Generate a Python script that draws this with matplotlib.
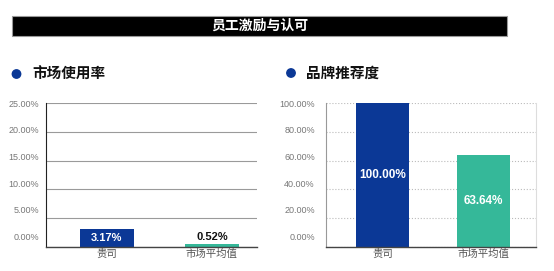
import matplotlib
matplotlib.use("Agg")
import matplotlib.pyplot as plt
from matplotlib.patches import Rectangle, Circle

plt.rcParams['font.family'] = ['Noto Sans CJK SC', 'DejaVu Sans']

main_title = "员工激励与认可"
categories = ["贵司", "市场平均值"]
usage_title = "市场使用率"
usage_values = [3.17, 0.52]
usage_ticks = [0, 5, 10, 15, 20, 25]
rec_title = "品牌推荐度"
rec_values = [100.00, 63.64]
rec_ticks = [0, 20, 40, 60, 80, 100]

BLUE = "#0b3896"
TEAL = "#35b899"
W, H = 554, 271

fig = plt.figure(figsize=(W / 100, H / 100), dpi=100)
fig.patch.set_facecolor("white")

def px_axes(x0, y0, x1, y1):
    return fig.add_axes([x0 / W, 1 - y1 / H, (x1 - x0) / W, (y1 - y0) / H])

# Title bar
bg = fig.add_axes([0, 0, 1, 1])
bg.set_xlim(0, W)
bg.set_ylim(H, 0)
bg.axis("off")
bg.add_patch(Rectangle((12, 16), 495, 20, facecolor="black", edgecolor="#999999", lw=0.8))
bg.text(259.5, 26, main_title, color="white", fontsize=10, fontweight="bold",
        ha="center", va="center")
# section headers
bg.add_patch(Circle((16.5, 74), 4.2, color=BLUE))
bg.text(32, 74, usage_title, fontsize=10.5, fontweight="bold", ha="left", va="center", color="#111111")
bg.add_patch(Circle((291, 73), 4.2, color=BLUE))
bg.text(306, 73, rec_title, fontsize=10.5, fontweight="bold", ha="left", va="center", color="#111111")

def style_axes(ax, ticks, top, grid_ls, grid_color, left_color, right_visible, pad):
    ax.set_ylim(0, top)
    ax.set_yticks(ticks)
    ax.set_yticklabels([])
    ax.tick_params(axis="y", which="major", length=0)
    lo = 0.075 * top
    label_pos = [lo + v * (top - lo) / top - 0.002 * top for v in ticks]
    ax.set_yticks(label_pos, minor=True)
    ax.set_yticklabels([f"{v:.2f}%" for v in ticks], minor=True,
                       family="Liberation Sans", fontsize=6.5, color="#777777")
    ax.tick_params(axis="y", which="minor", length=0, pad=pad)
    ax.yaxis.grid(True, which="major", color=grid_color, ls=grid_ls, lw=0.8)
    ax.set_axisbelow(True)
    ax.spines["top"].set_visible(False)
    ax.spines["right"].set_visible(right_visible)
    ax.spines["right"].set_color("#dddddd")
    ax.spines["left"].set_color(left_color)
    ax.spines["bottom"].set_color("#444444")
    ax.spines["bottom"].set_linewidth(1.0)
    ax.set_xticks(range(len(categories)))
    ax.set_xticklabels(categories, fontsize=7.5, color="#555555")
    ax.tick_params(axis="x", length=0, pad=1)

# Left chart
ax1 = px_axes(46, 103, 257, 247)
ax1.bar(range(len(categories)), usage_values, width=0.51, color=[BLUE, TEAL])
ax1.set_xlim(-0.58, 1.43)
style_axes(ax1, usage_ticks, 25, "-", "#9a9a9a", "#222222", False, 5)
ax1.text(0, usage_values[0] / 2, f"{usage_values[0]:.2f}%", color="white", fontweight="bold",
         family="Liberation Sans", fontsize=8, ha="center", va="center")
ax1.text(1, usage_values[1] + 0.3, f"{usage_values[1]:.2f}%", color="#111111", fontweight="bold",
         family="Liberation Sans", fontsize=8, ha="center", va="bottom")

# Right chart
ax2 = px_axes(326, 103, 536, 247)
ax2.bar(range(len(categories)), rec_values, width=0.52, color=[BLUE, TEAL])
ax2.set_xlim(-0.56, 1.52)
style_axes(ax2, rec_ticks, 100, ":", "#bbbbbb", "#999999", True, 8)
for i, v in enumerate(rec_values):
    ax2.text(i, v / 2, f"{v:.2f}%", color="white", fontweight="bold",
             family="Liberation Sans", fontsize=8.5, ha="center", va="center")

fig.savefig("out.png", dpi=100)
